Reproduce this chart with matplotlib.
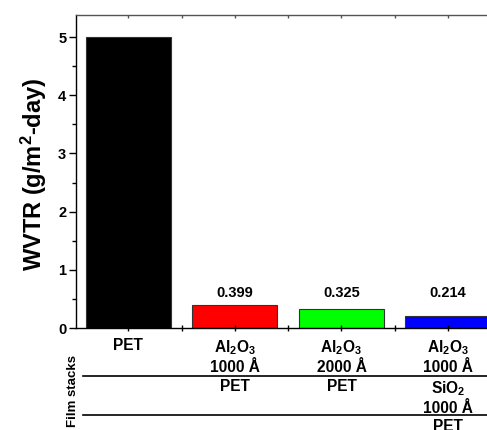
import matplotlib
matplotlib.use("Agg")
import matplotlib.pyplot as plt
from matplotlib.transforms import blended_transform_factory
from matplotlib.ticker import MultipleLocator, FixedLocator

plt.rcParams['font.family'] = ['Liberation Sans', 'DejaVu Sans']
plt.rcParams['font.weight'] = 'bold'
plt.rcParams['mathtext.fontset'] = 'custom'
plt.rcParams['mathtext.rm'] = 'Liberation Sans:bold'
plt.rcParams['mathtext.bf'] = 'Liberation Sans:bold'
plt.rcParams['mathtext.default'] = 'bf'

# data
samples = ["PET", "Al2O3 1000 A / PET", "Al2O3 2000 A / PET", "Al2O3 1000 A / SiO2 1000 A / PET"]
wvtr = [5.0, 0.399, 0.325, 0.214]
value_labels = ["", "0.399", "0.325", "0.214"]
bar_colors = ["#000000", "#ff0000", "#00ff00", "#0000ff"]
layer_row1 = ["PET", "Al$_2$O$_3$\n1000 Å", "Al$_2$O$_3$\n2000 Å", "Al$_2$O$_3$\n1000 Å"]
layer_row2 = ["", "PET", "PET", "SiO$_2$\n1000 Å"]
layer_row3 = ["", "", "", "PET"]

fig = plt.figure(figsize=(4.87, 4.30), dpi=100)
ax = fig.add_axes([76 / 487, 102 / 430, 436 / 487, 313 / 430])

x = range(len(wvtr))
ax.bar(x, wvtr, width=0.8, color=bar_colors, edgecolor="#333333", linewidth=0.8)
# value labels sit on one common line above the small bars
for xi, lab in zip(x, value_labels):
    if lab:
        ax.text(xi, 0.53, lab, ha="center", va="baseline", fontsize=10.5, fontweight="bold")

ax.set_xlim(-0.49, 3.6)
ax.set_ylim(0, 5.38)
ax.yaxis.set_major_locator(MultipleLocator(1))
ax.yaxis.set_minor_locator(MultipleLocator(0.5))
ax.xaxis.set_major_locator(FixedLocator(list(x)))
ax.xaxis.set_minor_locator(FixedLocator([i + 0.5 for i in x]))
ax.set_xticklabels([])
ax.tick_params(axis="y", which="major", length=5, width=1, labelsize=10.5, pad=2)
ax.tick_params(axis="y", which="minor", length=3, width=1)
ax.tick_params(axis="x", which="major", length=5, width=1, direction="inout", top=False)
ax.tick_params(axis="x", which="minor", length=4, width=1, direction="inout", top=False)
for lab in ax.get_yticklabels():
    lab.set_fontweight("bold")
for s in ax.spines.values():
    s.set_linewidth(1)
ax.spines["top"].set_color("#555555")

# small marks on the top edge
ax2 = ax.secondary_xaxis("top")
ax2.set_xticks(list(x))
ax2.set_xticks([i + 0.5 for i in x], minor=True)
ax2.set_xticklabels([])
ax2.tick_params(which="both", direction="in", length=2.5, width=1, color="#555555")
ax2.spines["top"].set_visible(False)

ax.set_ylabel("WVTR (g/m$^2$-day)", fontsize=17, fontweight="bold")
ax.yaxis.set_label_coords(-0.063, 0.49)

# film stack table under the axis
tr = blended_transform_factory(ax.transData, fig.transFigure)
def yf(px):
    return 1 - px / 430

rows = [(layer_row1, 338), (layer_row2, 379), (layer_row3, 419)]
for row, top_px in rows:
    for xi, t in zip(x, row):
        if t:
            ax.text(xi, yf(top_px), t, transform=tr, ha="center", va="top", fontsize=11.2,
                    fontweight="bold", linespacing=1.3, clip_on=False)

for ypx in (376, 415):
    fig.add_artist(plt.Line2D([83 / 487, 1.0], [yf(ypx), yf(ypx)], color="black", lw=1.2))

fig.text(73 / 487, yf(391), "Film stacks", rotation=90, ha="center", va="center",
         fontsize=9.5, fontweight="bold")

fig.savefig("out.png", dpi=100)
